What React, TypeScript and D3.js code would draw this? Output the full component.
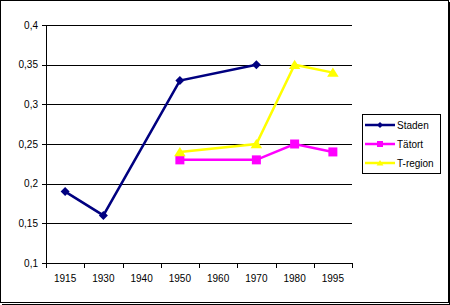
import React from "react";
import * as d3 from "d3";

const categories = ["1915", "1930", "1940", "1950", "1960", "1970", "1980", "1995"];
const staden: (number | null)[] = [0.19, 0.16, null, 0.33, null, 0.35, null, null];
const tatort: (number | null)[] = [null, null, null, 0.23, null, 0.23, 0.25, 0.24];
const tregion: (number | null)[] = [null, null, null, 0.24, null, 0.25, 0.35, 0.34];
const yTicks = [0.1, 0.15, 0.2, 0.25, 0.3, 0.35, 0.4];
const yTickLabels = ["0,1", "0,15", "0,2", "0,25", "0,3", "0,35", "0,4"];

const seriesList = [
  { name: "Staden", values: staden, color: "#000080", marker: "diamond" },
  { name: "Tätort", values: tatort, color: "#FF00FF", marker: "square" },
  { name: "T-region", values: tregion, color: "#FFFF00", marker: "triangle" },
];

const FONT = "'Liberation Sans', Arial, sans-serif";

function Marker({ type, x, y, color, s }: { type: string; x: number; y: number; color: string; s: number }) {
  if (type === "diamond") {
    return <path d={`M${x},${y - s}L${x + s},${y}L${x},${y + s}L${x - s},${y}Z`} fill={color} />;
  }
  if (type === "square") {
    return <rect x={x - s} y={y - s} width={2 * s} height={2 * s} fill={color} />;
  }
  return <path d={`M${x},${y - s}L${x + s * 1.15},${y + s * 0.85}L${x - s * 1.15},${y + s * 0.85}Z`} fill={color} />;
}

export default function App() {
  const x = d3.scaleBand<string>().domain(categories).range([46, 352]);
  const y = d3.scaleLinear().domain([0.1, 0.4]).range([263, 25]);
  const cx = (c: string) => (x(c) as number) + x.bandwidth() / 2;
  const line = d3
    .line<{ c: string; v: number }>()
    .x((d) => cx(d.c))
    .y((d) => y(d.v));
  const snap = (v: number) => Math.round(v) + 0.5;
  const legendY = [125, 144, 163];

  return (
    <svg
      width={450}
      height={305}
      style={{ position: "absolute", left: 0, top: 0, display: "block", background: "#fff" }}
      fontFamily={FONT}
    >
      {/* outer border */}
      <rect x={0.5} y={0.5} width={448} height={302} fill="none" stroke="#000" strokeWidth={1} />
      <line x1={449.5} y1={2} x2={449.5} y2={305} stroke="#000" />
      <line x1={2} y1={304.5} x2={450} y2={304.5} stroke="#000" />

      {/* gridlines and y ticks */}
      {yTicks.map((t, i) => (
        <g key={t}>
          {i > 0 && <line x1={46} x2={352} y1={snap(y(t))} y2={snap(y(t))} stroke="#000" />}
          <line x1={42} x2={46} y1={snap(y(t))} y2={snap(y(t))} stroke="#000" />
          <text x={38} y={y(t)} dy="0.35em" textAnchor="end" fontSize={10}>
            {yTickLabels[i]}
          </text>
        </g>
      ))}
      {/* axes */}
      <line x1={46.5} x2={46.5} y1={25} y2={264} stroke="#000" />
      <line x1={46} x2={353} y1={263.5} y2={263.5} stroke="#000" />
      {categories.map((c, i) => (
        <g key={c}>
          <line
            x1={snap((x(c) as number) + x.bandwidth())}
            x2={snap((x(c) as number) + x.bandwidth())}
            y1={263}
            y2={268}
            stroke="#000"
          />
          {i === 0 && <line x1={46.5} x2={46.5} y1={263} y2={268} stroke="#000" />}
          <text x={cx(c)} y={282} textAnchor="middle" fontSize={10}>
            {c}
          </text>
        </g>
      ))}

      {/* series */}
      {seriesList.map((s) => {
        const pts = categories
          .map((c, i) => ({ c, v: s.values[i] }))
          .filter((d) => d.v !== null) as { c: string; v: number }[];
        return (
          <g key={s.name}>
            <path d={line(pts) || ""} fill="none" stroke={s.color} strokeWidth={2.5} />
            {pts.map((d) => (
              <Marker key={d.c} type={s.marker} x={cx(d.c)} y={y(d.v)} color={s.color} s={s.marker === "triangle" ? 5 : s.marker === "square" ? 4.5 : 4.5} />
            ))}
          </g>
        );
      })}

      {/* legend */}
      <rect x={362.5} y={114.5} width={78} height={59} fill="#fff" stroke="#000" />
      {seriesList.map((s, i) => (
        <g key={s.name}>
          <line x1={365} x2={395} y1={legendY[i]} y2={legendY[i]} stroke={s.color} strokeWidth={2.5} />
          <Marker type={s.marker} x={380} y={legendY[i]} color={s.color} s={3} />
          <text x={397} y={legendY[i]} dy="0.35em" fontSize={10}>
            {s.name}
          </text>
        </g>
      ))}
    </svg>
  );
}
